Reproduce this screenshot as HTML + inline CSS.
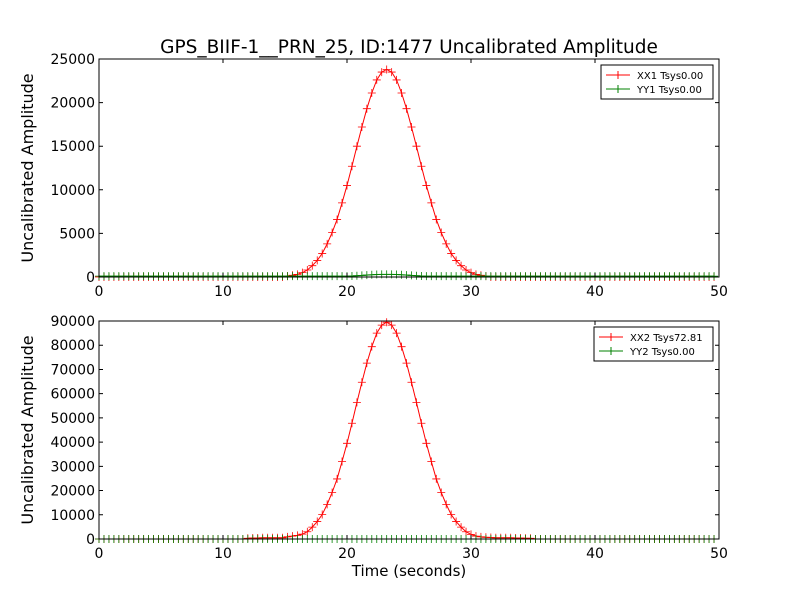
<!DOCTYPE html>
<html><head><meta charset="utf-8"><style>
body{margin:0;background:#fff;font-family:"Liberation Sans","DejaVu Sans",sans-serif}
</style></head><body>
<svg id="chart" width="800" height="600" xmlns="http://www.w3.org/2000/svg" font-family="DejaVu Sans, Liberation Sans, sans-serif"></svg>
<script>
const xTicks=[0,10,20,30,40,50];
const yTicksTop=[0,5000,10000,15000,20000,25000];
const yTicksBot=[0,10000,20000,30000,40000,50000,60000,70000,80000,90000];
const tStep=0.4;
const xx1=[0,0,0,0,0,0,0,0,0,0,0,0,0,0,0,0,0,0,0,0,0,0,0,0,0,0,0,0,0,0,0,0,0,0,0,0,0,0,
100,200,300,500,800,1300,1900,2700,3800,5100,6600,8500,10500,12700,15000,17200,19300,21100,22600,23500,23800,23500,22600,21100,19300,17200,15000,12700,10500,8500,6600,5100,3800,2700,1900,1300,800,500,300,200,100,
0,0,0,0,0,0,0,0,0,0,0,0,0,0,0,0,0,0,0,0,0,0,0,0,0,0,0,0,0,0,0,0,0,0,0,0,0,0,0,0,0,0,0,0,0,0];
const yy1=[100,100,100,100,100,100,100,100,100,100,100,100,100,100,100,100,100,100,100,100,100,100,100,100,100,100,100,100,100,100,100,100,100,100,100,100,100,100,100,100,100,100,100,100,100,100,100,100,100,100,100,120,150,180,220,260,290,300,300,300,290,260,220,180,150,120,100,100,100,100,100,100,100,100,100,100,100,100,100,100,100,100,100,100,100,100,100,100,100,100,100,100,100,100,100,100,100,100,100,100,100,100,100,100,100,100,100,100,100,100,100,100,100,100,100,100,100,100,100,100,100,100,100,100,100];
const xx2=[0,0,0,0,0,0,0,0,0,0,0,0,0,0,0,0,0,0,0,0,0,0,0,0,0,0,0,0,0,0,300,400,400,500,500,500,500,500,
900,1200,1500,2000,3000,4900,7200,10100,14300,19200,24800,32000,39500,47800,56400,64700,72600,79400,85000,88300,89500,88300,85000,79400,72600,64700,56400,47800,39500,32000,24800,19200,14300,10100,7200,4900,3000,1900,1200,900,700,
600,500,500,500,500,400,400,300,300,0,0,0,0,0,0,0,0,0,0,0,0,0,0,0,0,0,0,0,0,0,0,0,0,0,0,0,0,0,0,0,0,0,0,0,0,0];
const yy2=[0,0,0,0,0,0,0,0,0,0,0,0,0,0,0,0,0,0,0,0,0,0,0,0,0,0,0,0,0,0,0,0,0,0,0,0,0,0,0,0,0,0,0,0,0,0,0,0,0,0,0,0,0,0,0,0,0,0,0,0,0,0,0,0,0,0,0,0,0,0,0,0,0,0,0,0,0,0,0,0,0,0,0,0,0,0,0,0,0,0,0,0,0,0,0,0,0,0,0,0,0,0,0,0,0,0,0,0,0,0,0,0,0,0,0,0,0,0,0,0,0,0,0,0,0];

const svg=document.getElementById('chart');
const NS='http://www.w3.org/2000/svg';
function mk(tag,attrs,parent){const e=document.createElementNS(NS,tag);for(const k in attrs)e.setAttribute(k,attrs[k]);(parent||svg).appendChild(e);return e;}
function txt(s,attrs,parent){const e=mk('text',attrs,parent);e.textContent=s;return e;}

function panel(name,top,bottom,yMax,yTicks,s1,s2,lab1,lab2,legBox){
  const L=99,R=719;
  const g=mk('g',{});
  
  
  const xs=v=>L+(v/50)*(R-L);
  const ys=v=>bottom-(v/yMax)*(bottom-top);
  const bg=mk('rect',{x:L,y:top,width:R-L,height:bottom-top,fill:'#fff'},g);
  
  
  [[s1,'#ff0000',lab1],[s2,'#008000',lab2]].forEach(([arr,col,lab])=>{
    const sg=mk('g',{},g);
    
    
    let d='';
    arr.forEach((v,i)=>{d+=(i?'L':'M')+xs(i*tStep).toFixed(2)+','+ys(v).toFixed(2);});
    mk('path',{d:d,fill:'none',stroke:col,'stroke-width':1},sg);
    let md='';
    arr.forEach((v,i)=>{const x=xs(i*tStep),y=ys(v);md+=`M${x-4},${y}h8M${x},${y-4}v8`;});
    mk('path',{d:md,fill:'none',stroke:col,'stroke-width':0.8},sg);
  });
  mk('rect',{x:L,y:top,width:R-L,height:bottom-top,fill:'none',stroke:'#000','stroke-width':1},g);
  const ax=mk('g',{},g);
  
  
  xTicks.forEach(t=>{const x=xs(t);
    mk('path',{d:`M${x},${bottom}v-4M${x},${top}v4`,stroke:'#000'},ax);
    txt(String(t),{x:x,y:bottom+19,'font-size':14,'text-anchor':'middle'},ax);});
  const ay=mk('g',{},g);
  
  
  yTicks.forEach(t=>{const y=ys(t);
    mk('path',{d:`M${L},${y}h4M${R},${y}h-4`,stroke:'#000'},ay);
    txt(String(t),{x:L-4,y:y+5,'font-size':14,'text-anchor':'end'},ay);});
  const yl=txt('Uncalibrated Amplitude',{x:0,y:0,'font-size':16,'text-anchor':'middle',transform:`translate(33,${(top+bottom)/2}) rotate(-90)`},g);
  
  
  const lg=mk('g',{},g);
  
  
  const [bx,by,bw,bh]=legBox;
  mk('rect',{x:bx,y:by,width:bw,height:bh,fill:'#fff',stroke:'#000'},lg);
  [[lab1,'#ff0000'],[lab2,'#008000']].forEach(([lab,col],i)=>{
    const e=mk('g',{},lg);
    
    
    const y=by+10+i*14;
    mk('path',{d:`M${bx+5},${y}h24M${bx+17},${y-4}v8`,stroke:col},e);
    txt(lab,{x:bx+36,y:y+4,'font-size':10},e);
  });
}
const title=txt('GPS_BIIF-1__PRN_25, ID:1477 Uncalibrated Amplitude',{x:409,y:53,'font-size':18.5,'text-anchor':'middle'});


panel('top-panel',59,277,25000,yTicksTop,xx1,yy1,'XX1 Tsys0.00','YY1 Tsys0.00',[601,65,112,34]);
panel('bottom-panel',321,539,90000,yTicksBot,xx2,yy2,'XX2 Tsys72.81','YY2 Tsys0.00',[594,327,119,34]);
const xl=txt('Time (seconds)',{x:409,y:576,'font-size':15,'text-anchor':'middle'});


</script>
</body></html>
